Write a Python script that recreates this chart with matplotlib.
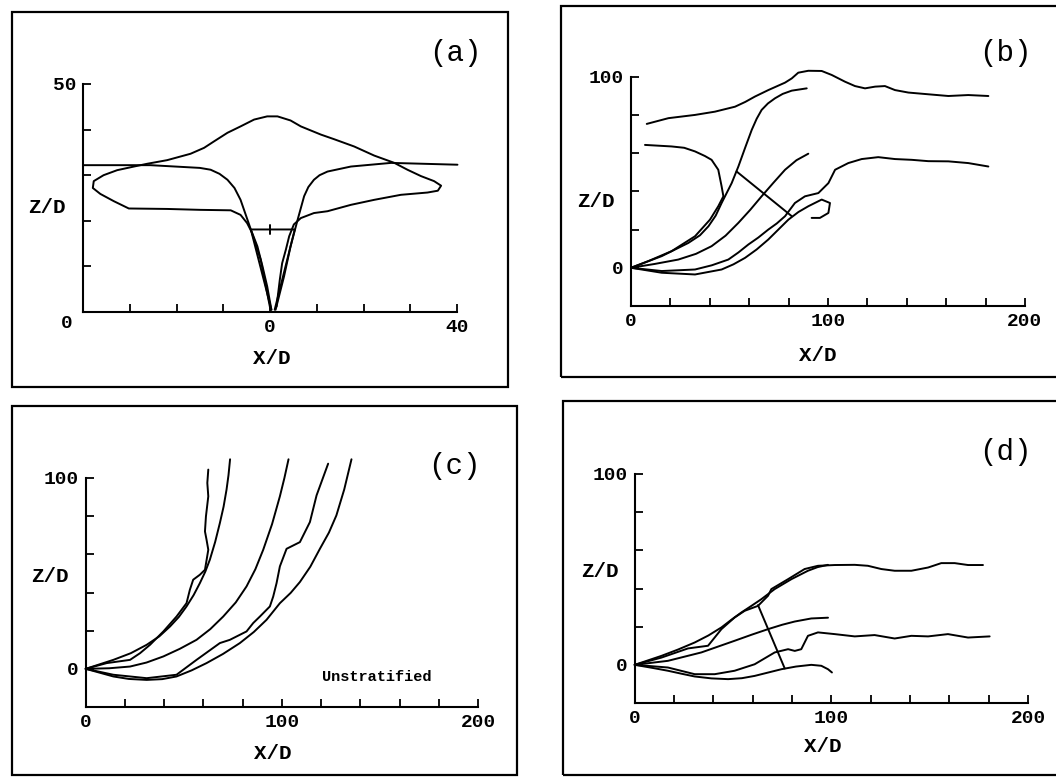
import matplotlib
matplotlib.use("Agg")
import matplotlib.pyplot as plt
from matplotlib.patches import Rectangle

plt.rcParams['font.family'] = ['Liberation Mono', 'DejaVu Sans']

# ---- panel (a): cross-section, X/D from -40 to 40, Z/D 0 to 50
a_env_x = [0.3, -0.6, -1.6, -2.7, -3.8, -4.9, -6.3, -8.4, -14.9, -22.0, -30.2, -33.4, -36.3, -37.9,
           -37.7, -35.6, -32.7, -29.1, -26.3, -22.0, -17.0, -14.1, -12.0, -9.1, -6.3, -3.4, -0.6,
           1.6, 4.4, 6.6, 10.9, 13.7, 18.0, 22.3, 26.6, 29.4, 32.3, 35.1, 36.6, 35.9, 33.7, 28.0,
           22.3, 17.3, 12.3, 9.4, 6.6, 5.1, 4.1, 3.4, 2.6, 2.1, 1.4]
a_env_z = [0.5, 5.6, 10.0, 14.4, 17.3, 19.5, 21.3, 22.3, 22.4, 22.6, 22.7, 24.3, 25.9, 27.2,
           28.7, 30.0, 31.1, 31.9, 32.5, 33.3, 34.7, 36.0, 37.4, 39.3, 40.7, 42.2, 42.9,
           42.9, 42.0, 40.7, 38.9, 37.9, 36.3, 34.3, 32.7, 31.2, 29.8, 28.7, 27.7, 26.6, 26.2, 25.7,
           24.6, 23.5, 22.1, 21.7, 20.6, 19.2, 16.6, 13.7, 10.7, 7.1, 1.2]
a_left_x = [-40, -25.6, -15.0, -12.7, -10.8, -9.1, -7.6, -6.3, -4.1, -2.0, 0.1]
a_left_z = [32.2, 32.2, 31.6, 31.2, 30.3, 29.0, 27.2, 24.6, 18.1, 11.5, 0.5]
a_right_x = [40.1, 25.9, 17.3, 12.3, 10.6, 9.4, 8.2, 7.3, 5.9, 4.4, 3.0, 1.2]
a_right_z = [32.3, 32.7, 31.9, 30.8, 30.0, 29.0, 27.4, 25.4, 20.2, 14.4, 7.8, 0.5]
a_cone_x = [0.3, -4.1, 5.3, 1.0]
a_cone_z = [0.5, 18.1, 18.1, 0.5]
a_mark_x = [0.1, 0.1]
a_mark_z = [17.2, 19.0]

# ---- panel (b)
b_top_x = [8.0, 19.0, 32.5, 42.6, 52.8, 58.0, 62.9, 69.7, 78.2, 81.6, 84.9, 90.0, 96.8, 101.9, 108.6,
           113.7, 118.8, 123.9, 128.9, 134.0, 140.8, 150.9, 161.1, 171.2, 181.4]
b_top_z = [75.3, 78.3, 80.0, 81.7, 84.3, 86.8, 89.6, 93.0, 96.9, 99.1, 102.1, 103.1, 103.0, 100.9, 97.4,
           95.1, 93.9, 94.8, 95.1, 93.0, 91.7, 90.8, 89.9, 90.4, 89.9]
b_low_x = [7.1, 20.6, 27.0, 32.5, 37.5, 40.9, 44.3, 46.0, 46.9, 44.3, 40.1, 32.5, 20.6, 8.8, 0]
b_low_z = [64.3, 63.5, 62.8, 60.9, 58.5, 56.5, 51.3, 42.6, 37.4, 32.2, 25.2, 16.5, 8.7, 3.5, 0]
b_t1_x = [0, 15.6, 29.1, 35.0, 39.3, 43.0, 46.0, 51.1, 54.5, 58.0, 61.3, 63.8, 66.3, 69.5, 73.1,
          77.0, 81.6, 89.2]
b_t1_z = [0, 6.1, 13.0, 17.0, 21.7, 27.3, 33.9, 44.3, 53.0, 63.0, 72.2, 78.0, 82.6, 86.0, 88.7,
          91.0, 92.7, 93.9]
b_t2_x = [0, 12.0, 24.0, 33.0, 40.9, 48.0, 54.5, 60.5, 66.3, 72.3, 78.2, 84.0, 90.0]
b_t2_z = [0, 2.0, 4.3, 7.3, 11.3, 16.8, 23.5, 30.3, 37.4, 44.5, 51.3, 56.3, 59.7]
b_t3_x = [0, 15.6, 32.5, 46.0, 52.0, 57.9, 63.8, 69.7, 74.8, 79.9, 85.0, 90.0, 96.8, 101.0, 100.2,
          95.9, 91.7]
b_t3_z = [0, -2.6, -3.5, -0.9, 1.8, 5.2, 9.6, 14.8, 20.0, 25.2, 29.2, 32.2, 35.7, 33.9, 28.7,
          26.1, 26.1]
b_bot_x = [0, 15.6, 32.5, 41.0, 49.4, 54.5, 59.6, 64.6, 69.7, 74.0, 78.2, 83.2, 88.3, 95.1, 100.2,
           103.6, 110.3, 117.1, 125.5, 134.0, 142.5, 150.9, 161.1, 171.2, 181.4]
b_bot_z = [0, -1.7, -0.9, 1.3, 4.3, 8.0, 12.2, 15.8, 20.0, 23.2, 27.0, 33.9, 37.4, 39.1, 44.3,
           51.3, 54.8, 56.9, 57.9, 56.9, 56.5, 55.8, 55.7, 54.8, 53.0]
b_cross_x = [53.6, 81.6]
b_cross_z = [50.4, 27.0]

# ---- panel (c) unstratified
c_s1_x = [0, 14.1, 23.0, 31.1, 37.5, 43.0, 47.5, 51.4, 55.0, 58.2, 61.0, 63.3, 66.0, 68.4,
          70.3, 71.8, 72.8, 73.6]
c_s1_z = [0, 4.7, 8.2, 12.6, 17.0, 22.2, 27.2, 32.7, 38.6, 44.9, 51.0, 57.2, 66.5, 76.4,
          85.0, 93.9, 101.5, 109.8]
c_w1_x = [0, 10.7, 22.6, 27.7, 32.8, 39.6, 46.3, 51.4, 53.1, 54.8, 58.2, 60.8, 62.5, 61.6,
          60.8, 61.3, 62.5, 62.0, 62.5]
c_w1_z = [0, 3.0, 4.7, 8.2, 12.6, 19.6, 27.4, 34.4, 41.4, 46.7, 49.3, 51.9, 62.4, 67.7,
          72.0, 79.9, 90.4, 97.4, 104.4]
c_s2_x = [0, 12.0, 22.6, 31.0, 39.6, 48.0, 56.5, 63.5, 70.1, 76.5, 82.0, 86.5, 90.5, 95.0,
          99.0, 101.3, 103.4]
c_s2_z = [0, 0.3, 1.2, 3.3, 6.5, 10.5, 15.2, 20.8, 27.4, 34.8, 43.2, 52.2, 62.4, 75.8,
          90.4, 100.0, 109.8]
c_s3_x = [0, 14.1, 22.0, 31.1, 39.0, 46.3, 54.0, 61.6, 70.0, 78.6, 85.7, 92.2, 99.0, 104.5,
          109.2, 114.5, 119.4, 124.0, 127.8, 131.8, 135.5]
c_s3_z = [0, -4.0, -5.3, -5.8, -5.4, -4.0, -0.8, 3.0, 7.8, 13.5, 19.3, 25.7, 34.4, 39.8,
          45.5, 53.5, 62.9, 71.4, 80.4, 94.0, 109.8]
c_w3_x = [0, 14.1, 31.1, 46.3, 56.5, 68.4, 73.5, 82.0, 85.4, 88.8, 93.9, 95.6, 97.3, 99.0,
          102.4, 109.2, 114.3, 117.7, 123.6]
c_w3_z = [0, -3.1, -4.9, -3.1, 4.7, 13.5, 15.2, 19.6, 24.0, 27.4, 32.7, 37.9, 44.9, 53.7,
          62.9, 66.4, 76.9, 90.9, 107.5]

# ---- panel (d)
d_s1_x = [0, 13.6, 22.0, 30.5, 37.5, 44.1, 49.0, 54.2, 59.5, 64.4, 71.2, 79.7, 88.1, 93.0, 98.3]
d_s1_z = [0, 4.7, 8.0, 11.7, 15.4, 19.6, 23.5, 27.4, 31.0, 34.4, 39.7, 44.9, 49.3, 51.2, 52.4]
d_w1_x = [0, 13.6, 27.1, 37.3, 44.1, 50.8, 55.9, 62.7, 67.8, 69.5, 78.0, 86.4, 93.2, 101.7,
          111.9, 118.6, 125.4, 132.2, 140.7, 149.2, 155.9, 162.7, 169.5, 177.1]
d_w1_z = [0, 3.8, 8.6, 10.0, 18.7, 24.8, 28.3, 30.9, 36.2, 39.7, 44.9, 50.2, 51.9, 52.3,
          52.4, 51.9, 50.2, 49.3, 49.3, 51.0, 53.3, 53.3, 52.3, 52.3]
d_s2_x = [0, 16.9, 33.9, 50.8, 59.5, 67.8, 75.0, 81.4, 89.8, 98.3]
d_s2_z = [0, 2.1, 6.5, 12.6, 15.8, 18.7, 21.0, 22.7, 24.3, 24.7]
d_w3_x = [0, 16.9, 30.5, 40.7, 50.8, 61.0, 71.2, 78.0, 81.4, 84.7, 88.1, 93.2, 101.7, 111.9,
          122.0, 132.2, 140.7, 149.2, 159.3, 169.5, 180.5]
d_w3_z = [0, -1.4, -4.9, -4.9, -3.1, 0.3, 6.5, 8.2, 7.3, 8.2, 15.2, 17.0, 16.1, 14.9,
          15.6, 13.8, 15.2, 14.9, 16.1, 14.3, 14.9]
d_s3_x = [0, 9.0, 16.9, 24.0, 30.5, 39.0, 47.5, 54.5, 61.0, 68.0, 74.6, 82.0, 89.8, 94.9, 98.3, 100.3]
d_s3_z = [0, -1.6, -3.1, -4.7, -6.1, -7.1, -7.5, -7.0, -5.8, -4.0, -2.3, -0.9, 0.0, -0.5, -2.3, -4.0]
d_cross_x = [62.7, 76.3]
d_cross_z = [31.3, -1.9]

W, H = 1056, 778
fig = plt.figure(figsize=(W / 100, H / 100), dpi=100)
lw = 1.4
lkw = dict(color='black', lw=lw, solid_joinstyle='round', solid_capstyle='round', clip_on=False)
tkw = dict(ha='center', va='center', fontsize=15, fontweight='bold')

def px_axes(x0, x1, ytop, ybot):
    return fig.add_axes([x0 / W, 1 - ybot / H, (x1 - x0) / W, (ybot - ytop) / H])

def frame(x0, y0, x1, y1):
    fig.patches.append(Rectangle((x0 / W, 1 - y1 / H), (x1 - x0) / W, (y1 - y0) / H,
                                 transform=fig.transFigure, fill=False, lw=1.6, color='black'))

def style(ax):
    for s in ['top', 'right']:
        ax.spines[s].set_visible(False)
    for s in ['left', 'bottom']:
        ax.spines[s].set_linewidth(1.5)
    ax.tick_params(direction='in', length=6, width=1.3, labelsize=14, pad=5)
    for lab in ax.get_xticklabels() + ax.get_yticklabels():
        lab.set_fontweight('bold')
    ax.patch.set_alpha(0)

frame(12, 12, 508, 387)
frame(561, 6, 1062, 377)
frame(12, 406, 517, 775)
frame(563, 401, 1062, 775)

# (a)
ax = px_axes(83, 457, 84, 312)
ax.set_xlim(-40, 40)
ax.set_ylim(0, 50)
ax.set_xticks(range(-40, 41, 10), ['', '', '', '', '0', '', '', '', '40'])
ax.set_yticks(range(0, 51, 10), ['', '', '', '', '', '50'])
style(ax)
for xs, zs in [(a_env_x, a_env_z), (a_left_x, a_left_z), (a_right_x, a_right_z),
               (a_cone_x, a_cone_z), (a_mark_x, a_mark_z)]:
    ax.plot(xs, zs, **lkw)
ax.text(-0.043, -0.05, '0', transform=ax.transAxes, ha='center', va='center', fontsize=14,
        fontweight='bold')
ax.text(-0.096, 0.46, 'Z/D', transform=ax.transAxes, **tkw)
ax.text(0.505, -0.202, 'X/D', transform=ax.transAxes, **tkw)
ax.text(0.995, 1.136, '(a)', transform=ax.transAxes, ha='center', va='center', fontsize=21)

def traj_axes(x0, x1, ytop, ybot):
    ax = px_axes(x0, x1, ytop, ybot)
    ax.set_xlim(0, 200)
    ax.set_ylim(-20, 100)
    ax.set_xticks(range(0, 201, 20), ['0', '', '', '', '', '100', '', '', '', '', '200'])
    ax.set_yticks(range(0, 101, 20), ['0', '', '', '', '', '100'])
    style(ax)
    return ax

# (b)
ax = traj_axes(631, 1025, 76.7, 306)
for xs, zs in [(b_top_x, b_top_z), (b_low_x, b_low_z), (b_t1_x, b_t1_z), (b_t2_x, b_t2_z),
               (b_t3_x, b_t3_z), (b_bot_x, b_bot_z), (b_cross_x, b_cross_z)]:
    ax.plot(xs, zs, **lkw)
ax.text(-0.089, 0.454, 'Z/D', transform=ax.transAxes, **tkw)
ax.text(0.475, -0.214, 'X/D', transform=ax.transAxes, **tkw)
ax.text(0.949, 1.103, '(b)', transform=ax.transAxes, ha='center', va='center', fontsize=21)

# (c)
ax = traj_axes(85.7, 478, 478, 707)
for xs, zs in [(c_s1_x, c_s1_z), (c_w1_x, c_w1_z), (c_s2_x, c_s2_z), (c_s3_x, c_s3_z),
               (c_w3_x, c_w3_z)]:
    ax.plot(xs, zs, **lkw)
ax.text(-0.091, 0.568, 'Z/D', transform=ax.transAxes, **tkw)
ax.text(0.477, -0.205, 'X/D', transform=ax.transAxes, **tkw)
ax.text(0.941, 1.052, '(c)', transform=ax.transAxes, ha='center', va='center', fontsize=21)
ax.text(0.742, 0.13, 'Unstratified', transform=ax.transAxes, ha='center', va='center',
        fontsize=11, fontweight='bold')

# (d)
ax = traj_axes(634.7, 1028, 474, 703)
for xs, zs in [(d_s1_x, d_s1_z), (d_w1_x, d_w1_z), (d_s2_x, d_s2_z), (d_w3_x, d_w3_z),
               (d_s3_x, d_s3_z), (d_cross_x, d_cross_z)]:
    ax.plot(xs, zs, **lkw)
ax.text(-0.088, 0.576, 'Z/D', transform=ax.transAxes, **tkw)
ax.text(0.479, -0.192, 'X/D', transform=ax.transAxes, **tkw)
ax.text(0.942, 1.096, '(d)', transform=ax.transAxes, ha='center', va='center', fontsize=21)

fig.savefig('out.png', dpi=100)
